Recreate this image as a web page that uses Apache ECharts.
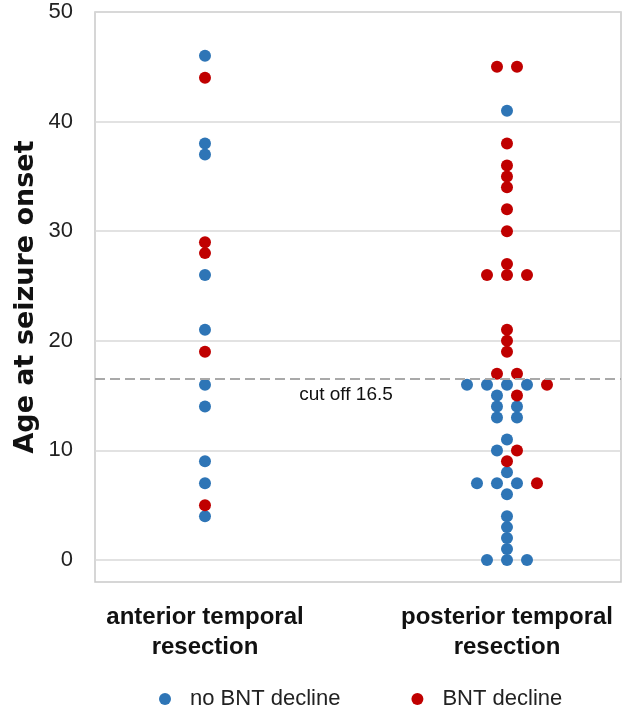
<!DOCTYPE html>
<html>
<head>
<meta charset="utf-8">
<script src="https://cdn.jsdelivr.net/npm/echarts@6/dist/echarts.min.js"></script>
<style>html,body{margin:0;padding:0;background:#fff}#c{width:622px;height:706px}</style>
</head>
<body>
<div id="c"></div>
<script>
// ---- data ----
const categories = ['anterior temporal\nresection', 'posterior temporal\nresection'];
const seriesNames = ['no BNT decline', 'BNT decline'];
const anteriorNoDecline = [46, 38, 37, 26, 21, 16, 14, 9, 7, 4];
const anteriorDecline = [44, 29, 28, 19, 5];
const posteriorNoDecline = [41, 16, 16, 16, 16, 15, 14, 14, 13, 13, 11, 10, 8, 7, 7, 7, 6, 4, 3, 2, 1, 0, 0, 0];
const posteriorDecline = [45, 45, 38, 36, 35, 34, 32, 30, 27, 26, 26, 26, 21, 20, 19, 17, 17, 16, 15, 10, 9, 7];
const cutoff = 16.5;
const yTicks = [0, 10, 20, 30, 40, 50];

// ---- styling constants ----
const COLORS = ['#2E75B6', '#C00000'];
const DOT = 12;       // symbol size (px)
const STEP = 20;      // horizontal spacing between dots in a row (px)
const FONT = "'Liberation Sans', Arial, sans-serif";

// dot-plot layout: dots sharing a value are centered in a row, blue first then red
function swarm(groups) {
  const rows = {};
  groups.forEach((vals, g) => vals.forEach(v => { (rows[v] = rows[v] || []).push(g); }));
  const out = [[], []];
  Object.keys(rows).forEach(k => {
    const list = rows[k];
    const n = list.length;
    list.forEach((g, i) => out[g].push({ v: Number(k), dx: (i - (n - 1) / 2) * STEP }));
  });
  return out;
}
const perCat = [swarm([anteriorNoDecline, anteriorDecline]), swarm([posteriorNoDecline, posteriorDecline])];

function seriesData(g) {
  const d = [];
  perCat.forEach((cat, ci) => cat[g].forEach(p => d.push({ value: [ci, p.v], symbolOffset: [p.dx, 0] })));
  return d;
}

const chart = echarts.init(document.getElementById('c'), null, { renderer: 'canvas' });
chart.setOption({
  animation: false,
  backgroundColor: '#fff',
  grid: [
    { left: 95, right: 1, top: 12, bottom: 146, show: false },
    { left: 95, right: 1, top: 12, bottom: 124, show: true, borderColor: '#c9c9c9', borderWidth: 1.5, backgroundColor: 'transparent' }
  ],
  xAxis: [
    {
      gridIndex: 0, type: 'value', min: -0.3642, max: 1.3775,
      axisLine: { show: false }, axisTick: { show: false }, splitLine: { show: false },
      axisLabel: {
        customValues: [0, 1], margin: 42,
        formatter: v => categories[Math.round(v)] || '',
        fontFamily: FONT, fontSize: 24, fontWeight: 'bold', color: '#111', lineHeight: 30, align: 'center'
      }
    },
    { gridIndex: 1, type: 'value', show: false, min: 0, max: 1 }
  ],
  yAxis: [
    {
      gridIndex: 0, type: 'value', min: yTicks[0], max: yTicks[yTicks.length - 1], interval: 10,
      axisLine: { show: false }, axisTick: { show: false },
      splitLine: { show: true, lineStyle: { color: '#d9d9d9', width: 1.5 } },
      axisLabel: { fontFamily: FONT, fontSize: 22, color: '#222', margin: 22 }
    },
    {
      gridIndex: 1, type: 'value', min: 0, max: 1,
      axisLine: { show: false }, axisTick: { show: false }, axisLabel: { show: false }, splitLine: { show: false },
      name: 'Age at seizure onset', nameLocation: 'middle', nameGap: 56,
      nameTextStyle: { fontFamily: "'DejaVu Sans', sans-serif", fontSize: 27, fontWeight: 'bold', color: '#111' }
    }
  ],
  legend: {
    data: seriesNames, left: 154, top: 683, icon: 'circle', itemWidth: 12, itemHeight: 12, itemGap: 71,
    textStyle: { fontFamily: FONT, fontSize: 22, color: '#222', padding: [0, 0, 0, 14] }
  },
  series: [
    {
      name: seriesNames[0], type: 'scatter', xAxisIndex: 0, yAxisIndex: 0,
      symbol: 'circle', symbolSize: DOT, itemStyle: { color: COLORS[0], opacity: 1 },
      data: seriesData(0),
      markLine: {
        silent: true, symbol: 'none',
        lineStyle: { type: [10, 5], color: '#a9a9a9', width: 2 },
        label: {
          show: true, position: 'insideMiddleBottom', formatter: 'cut off ' + cutoff,
          fontFamily: FONT, fontSize: 19, color: '#111', distance: 6, padding: [0, 24, 0, 0]
        },
        data: [{ yAxis: cutoff }]
      }
    },
    {
      name: seriesNames[1], type: 'scatter', xAxisIndex: 0, yAxisIndex: 0,
      symbol: 'circle', symbolSize: DOT, itemStyle: { color: COLORS[1], opacity: 1 },
      data: seriesData(1)
    }
  ]
});
</script>
</body>
</html>
